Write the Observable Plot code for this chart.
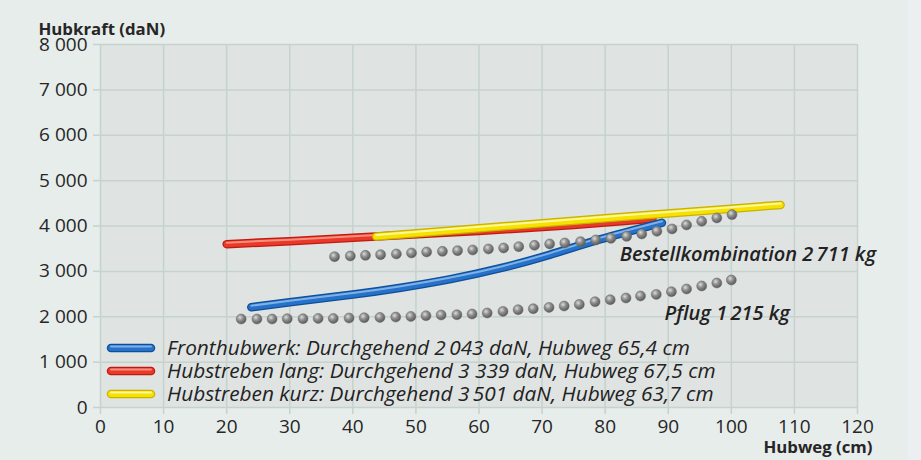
<!DOCTYPE html>
<html><head><meta charset="utf-8">
<script src="https://cdn.jsdelivr.net/npm/d3@7"></script>
<script src="https://cdn.jsdelivr.net/npm/@observablehq/plot@0.6"></script>
<style>
html,body{margin:0;padding:0;background:#e7edeb;}
#chart{position:relative;width:921px;height:460px;overflow:hidden;
  background:linear-gradient(to right,#e7edeb 0,#e7edeb 908px,#ebeff1 908px);}
</style></head><body><div id="chart"></div>
<script>
// ---- data ----
const xTicks = [0,10,20,30,40,50,60,70,80,90,100,110,120];
const yTicks = [0,1000,2000,3000,4000,5000,6000,7000,8000];

const blueX = [23.9, 30, 40, 47.6, 55.5, 63.4, 71.3, 79.3, 89.0];
const blueY = [2210, 2320, 2490, 2640, 2830, 3070, 3370, 3710, 4070];

const redX = [20, 30, 43.7, 60, 75, 87.5];
const redY = [3600, 3665, 3770, 3890, 4020, 4160];

const yellowX = [43.7, 60, 80, 100, 107.8];
const yellowY = [3770, 3950, 4170, 4380, 4465];

const kombiX = [37.1, 39.6, 42.0, 44.4, 46.9, 49.3, 51.7, 54.2, 56.6, 59.0, 61.5, 63.9, 66.3, 68.8, 71.2, 73.6, 76.1, 78.5, 80.9, 83.4, 85.8, 88.2, 90.6, 92.9, 95.3, 97.7, 100.1];
const kombiY = [3324, 3340, 3353, 3369, 3384, 3406, 3428, 3441, 3457, 3472, 3494, 3516, 3545, 3574, 3605, 3627, 3655, 3693, 3728, 3772, 3825, 3883, 3936, 4024, 4103, 4178, 4251];

const pflugX = [22.3, 24.8, 27.2, 29.6, 32.1, 34.5, 36.9, 39.4, 41.8, 44.3, 46.8, 49.2, 51.6, 54.0, 56.5, 58.9, 61.3, 63.8, 66.2, 68.6, 71.1, 73.5, 75.9, 78.4, 80.8, 83.3, 85.6, 88.1, 90.5, 92.9, 95.3, 97.7, 100.0];
const pflugY = [1950, 1950, 1950, 1957, 1957, 1963, 1963, 1972, 1979, 1985, 1994, 2007, 2023, 2038, 2045, 2060, 2083, 2118, 2155, 2177, 2206, 2237, 2272, 2332, 2376, 2413, 2458, 2493, 2552, 2612, 2678, 2744, 2810];

const annoX = [82.3, 89.4];
const annoY = [3372, 2078];
const annoText = ["Bestellkombination 2\u2009711 kg", "Pflug 1\u2009215 kg"];

const legendLabels = [
  "Fronthubwerk: Durchgehend 2\u2009043 daN, Hubweg 65,4 cm",
  "Hubstreben lang: Durchgehend 3 339 daN, Hubweg 67,5 cm",
  "Hubstreben kurz: Durchgehend 3\u2009501 daN, Hubweg 63,7 cm"
];
const seriesColors = [
  {dark:"#0d4f99", main:"#2772c8", light:"#8dbcec"},
  {dark:"#c01a10", main:"#e8392a", light:"#fb9f8c"},
  {dark:"#c9b100", main:"#f6e200", light:"#fffbb8"}
];

// ---- build ----
const font = "'Open Sans', 'Noto Sans', sans-serif";
const fmt = d => d3.format(",")(d).replace(/,/g, " ");
const toRows = (xs, ys) => xs.map((x, i) => ({x, y: ys[i]}));
const gridColor = "#c6d2cc";
const textColor = "#262626";

function tube(rows, c) {
  const o = {x: "x", y: "y", curve: "natural", strokeLinecap: "round", strokeLinejoin: "round"};
  return [
    Plot.line(rows, {...o, stroke: c.dark, strokeWidth: 8.5}),
    Plot.line(rows, {...o, stroke: c.main, strokeWidth: 6}),
    Plot.line(rows, {...o, stroke: c.light, strokeWidth: 2, dy: -1.5, strokeOpacity: 0.85})
  ];
}

const plot = Plot.plot({
  width: 921, height: 460,
  marginLeft: 100, marginRight: 64, marginTop: 44, marginBottom: 53,
  style: {background: "transparent", fontFamily: font, color: textColor, overflow: "visible"},
  x: {domain: [0, 120]},
  y: {domain: [0, 8000]},
  marks: [
    Plot.frame({fill: "#dfe3e2", stroke: "none"}),
    Plot.gridX(xTicks, {stroke: gridColor, strokeWidth: 1.5, strokeOpacity: 1}),
    Plot.gridY(yTicks, {stroke: gridColor, strokeWidth: 1.5, strokeOpacity: 1}),
    Plot.axisX(xTicks, {tickSize: 7, tickPadding: 5, stroke: gridColor, strokeWidth: 1.5, fill: textColor, fontSize: 19, label: null, tickFormat: d => String(d)}),
    Plot.axisY(yTicks, {tickSize: 7, tickPadding: 6, stroke: gridColor, strokeWidth: 1.5, fill: textColor, fontSize: 19, label: null, tickFormat: fmt}),
    Plot.text(["Hubkraft (daN)"], {frameAnchor: "top-left", dx: -62, dy: -21, textAnchor: "start", fontWeight: "bold", fontSize: 16.8, fill: textColor}),
    Plot.text(["Hubweg (cm)"], {frameAnchor: "bottom-right", dx: 15, dy: 45, textAnchor: "end", fontWeight: "bold", fontSize: 16.8, fill: textColor}),
    ...tube(toRows(redX, redY), seriesColors[1]),
    ...tube(toRows(yellowX, yellowY), seriesColors[2]),
    ...tube(toRows(blueX, blueY), seriesColors[0]),
    Plot.dot(toRows(kombiX, kombiY), {x: "x", y: "y", r: 5, fill: "#8a8a8a", stroke: "#6a6a6a", strokeWidth: 0.5}),
    Plot.dot(toRows(pflugX, pflugY), {x: "x", y: "y", r: 5, fill: "#8a8a8a", stroke: "#6a6a6a", strokeWidth: 0.5}),
    Plot.text(annoText, {x: annoX, y: annoY, textAnchor: "start", fontStyle: "italic", fontWeight: 600, fontSize: 20, fill: "#222"})
  ]
});

document.getElementById("chart").appendChild(plot);

// sphere shading for dots
const svg = d3.select(plot);
const defs = svg.insert("defs", ":first-child");
const g = defs.append("radialGradient").attr("id", "ball").attr("cx", "38%").attr("cy", "35%").attr("r", "65%");
g.append("stop").attr("offset", "0%").attr("stop-color", "#dcdcdc");
g.append("stop").attr("offset", "45%").attr("stop-color", "#909090");
g.append("stop").attr("offset", "100%").attr("stop-color", "#5a5a5a");
svg.selectAll('g[aria-label="dot"] circle').attr("fill", "url(#ball)");

// legend (inside the plot frame, lower left)
const leg = svg.append("g").attr("font-family", font).attr("text-anchor", "start");
const rowY = [348, 371, 394];
legendLabels.forEach((lab, i) => {
  const c = seriesColors[i];
  const gy = rowY[i];
  leg.append("line").attr("x1", 111).attr("x2", 151).attr("y1", gy).attr("y2", gy)
    .attr("stroke", c.dark).attr("stroke-width", 8.5).attr("stroke-linecap", "round");
  leg.append("line").attr("x1", 111).attr("x2", 151).attr("y1", gy).attr("y2", gy)
    .attr("stroke", c.main).attr("stroke-width", 6).attr("stroke-linecap", "round");
  leg.append("line").attr("x1", 111).attr("x2", 151).attr("y1", gy - 1.5).attr("y2", gy - 1.5)
    .attr("stroke", c.light).attr("stroke-width", 2).attr("stroke-linecap", "round").attr("stroke-opacity", 0.85);
  leg.append("text").attr("x", 167).attr("y", gy).attr("dy", "0.35em")
    .attr("text-anchor", "start")
    .attr("font-style", "italic").attr("font-size", 20.8).attr("fill", "#222")
    .text(lab);
});
</script>
</body></html>
